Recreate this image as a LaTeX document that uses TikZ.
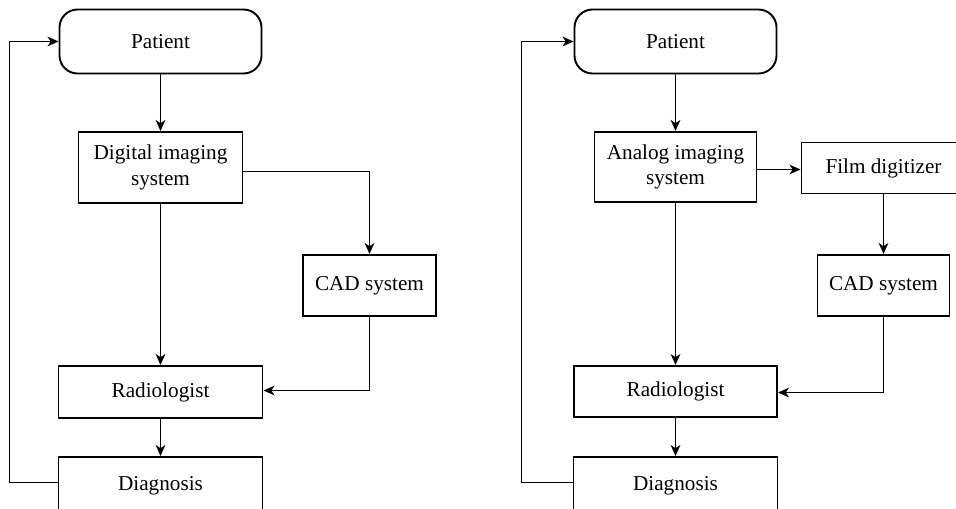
\documentclass[tikz,border=0pt]{standalone}
\usepackage{fontspec}
\setmainfont{Liberation Serif}
\usetikzlibrary{arrows.meta}
\begin{document}
\begin{tikzpicture}[x=0.5pt,y=-0.5pt,
  line width=0.95pt,
  every node/.style={font=\fontsize{10.6}{12.6}\selectfont, align=center, inner sep=0pt},
  box/.style={draw, rectangle, minimum width=#1},
  startbox/.style={draw, rectangle, rounded corners=9pt, minimum width=101pt, minimum height=32pt},
  endbox/.style={draw, rectangle, minimum width=102pt, minimum height=34pt},
  flow/.style={-{Stealth[length=5.5pt,width=4.8pt,inset=1.6pt]}}
]
\clip (0,0) rectangle (956,508);

% ---- digital imaging chain ----
\node[startbox] (patL) at (160.5,41.5) {Patient};
\node[box=82pt, minimum height=35.5pt] (digL) at (160.5,167.5) {Digital imaging\\system};
\node[box=66.5pt, minimum height=30.5pt] (cadL) at (369.5,285.5) {CAD system};
\node[box=102pt, minimum height=26pt] (radL) at (160.5,392) {Radiologist};
\node[endbox] (diaL) at (160.5,491) {\raisebox{8pt}{Diagnosis}};
\coordinate (fbL) at (9.5,482.5);

\draw[flow] (patL) -- (digL);
\draw[flow] ([yshift=-2pt]digL.east) -| (cadL.north);
\draw[flow] (digL) -- (radL);
\draw[flow] (cadL.south) |- ([yshift=0.75pt]radL.east);
\draw[flow] (radL) -- (diaL);
\draw[flow] (diaL.west |- fbL) -- (fbL) |- (patL.west);

% ---- analog imaging chain ----
\node[startbox] (patR) at (675.5,41.5) {Patient};
\node[box=81pt, minimum height=35pt] (anaR) at (675.5,167) {Analog imaging\\system};
\node[box=82pt, minimum height=25.5pt] (filmR) at (883.5,168) {Film digitizer};
\node[box=66pt, minimum height=30.5pt] (cadR) at (883.5,285.5) {CAD system};
\node[box=101.5pt, minimum height=25.5pt] (radR) at (675.5,391.5) {Radiologist};
\node[endbox] (diaR) at (675.5,491) {\raisebox{8pt}{Diagnosis}};
\coordinate (fbR) at (521.5,482.5);
\coordinate (filmIn) at (0,169.5);

\draw[flow] (patR) -- (anaR);
\draw[flow] (anaR.east |- filmIn) -- (filmR.west |- filmIn);
\draw[flow] (filmR) -- (cadR);
\draw[flow] (anaR) -- (radR);
\draw[flow] (cadR.south) |- ([yshift=-0.5pt]radR.east);
\draw[flow] (radR) -- (diaR);
\draw[flow] (diaR.west |- fbR) -- (fbR) |- (patR.west);
\end{tikzpicture}
\end{document}
